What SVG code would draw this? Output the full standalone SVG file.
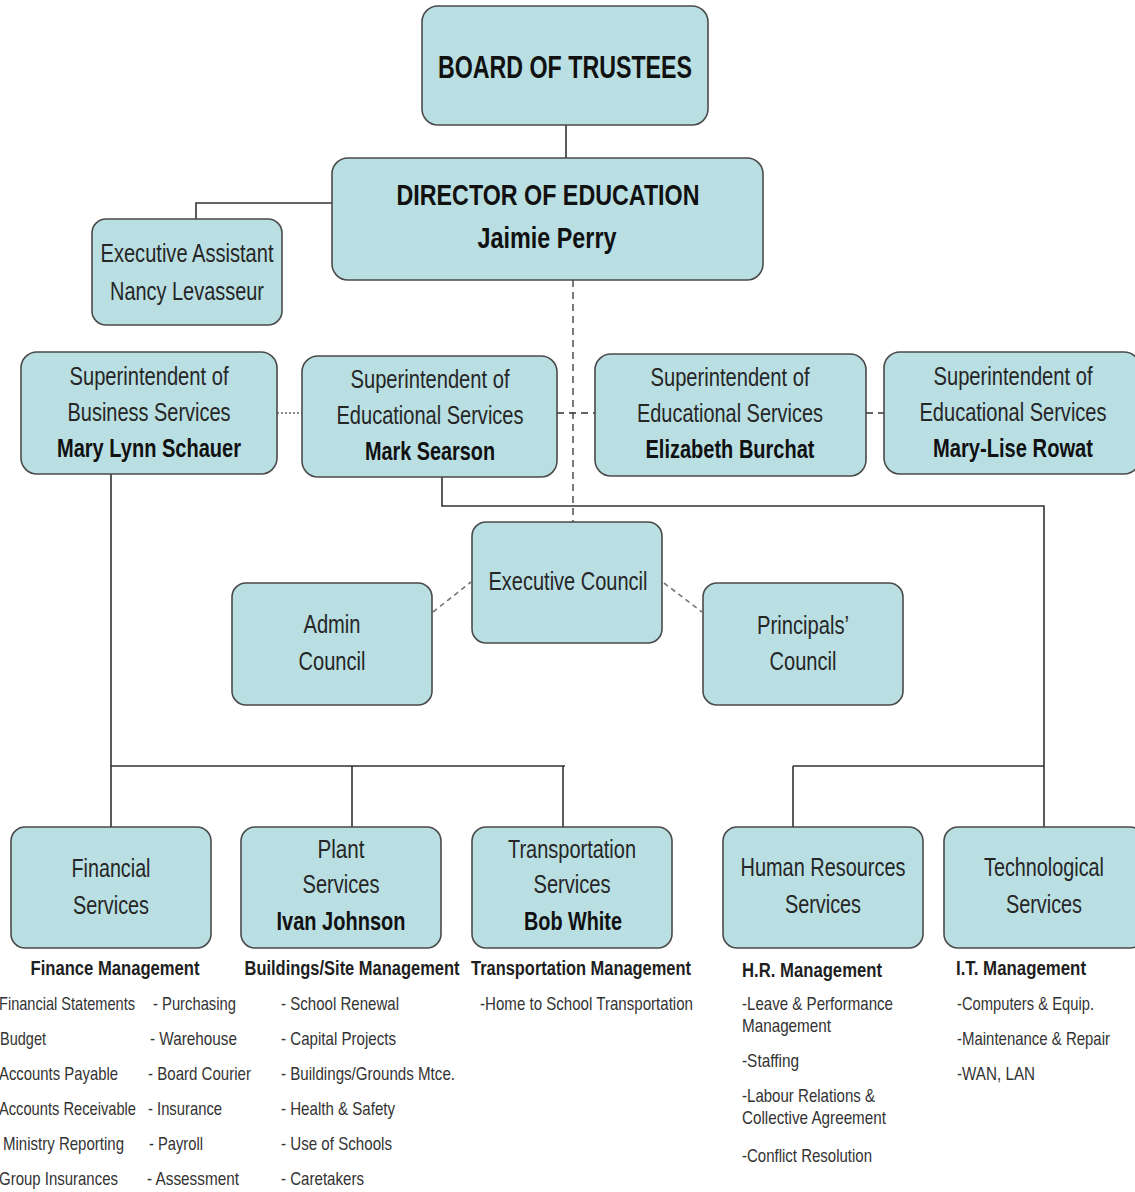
<svg xmlns="http://www.w3.org/2000/svg" width="1135" height="1192" viewBox="0 0 1135 1192">
<style>
.box{fill:#b9dfe3;stroke:#4a4a4a;stroke-width:1.6}
text{font-family:"Liberation Sans",Arial,sans-serif;fill:#262626}
.c{text-anchor:middle}
.t{font-size:26px}
.b{font-weight:bold;fill:#111}
.h{font-size:20px;font-weight:bold;fill:#1e1e1e}
.i{font-size:19px;fill:#333}
.ln{fill:none;stroke:#333;stroke-width:1.6}
.ds{fill:none;stroke:#333;stroke-width:1.3;stroke-dasharray:7 5}
.gd{fill:none;stroke:#777;stroke-width:1.6;stroke-dasharray:5 4}
.dt{fill:none;stroke:#888;stroke-width:2;stroke-dasharray:2 2}
</style>
<rect width="1135" height="1192" fill="#fff"/>
<g id="connectors">
<path class="ln" d="M566,125V158"/>
<path class="ln" d="M196,219V203H332"/>
<path class="ln" d="M111,474V827M111,766H565M352,766V827M563,766V827"/>
<path class="ln" d="M442,477V506H1044V827M793,766H1044M793,766V827"/>
<path class="ds" d="M573,280V522"/>
<path class="ds" d="M557,413H595"/>
<path class="ds" d="M866,413H884"/>
<path class="dt" d="M277,413H302"/>
<path class="gd" d="M433,612L471,582M664,583L702,612"/>
</g>
<g id="board">
<rect class="box" x="422" y="6" width="286" height="119" rx="16"/>
<text class="c b" x="565" y="78" font-size="31" textLength="254" lengthAdjust="spacingAndGlyphs">BOARD OF TRUSTEES</text>
</g>
<g id="director">
<rect class="box" x="332" y="158" width="431" height="122" rx="16"/>
<text class="c b" x="548" y="205" font-size="30" textLength="303" lengthAdjust="spacingAndGlyphs">DIRECTOR OF EDUCATION</text>
<text class="c b" x="547" y="248" font-size="29" textLength="139" lengthAdjust="spacingAndGlyphs">Jaimie Perry</text>
</g>
<g id="exec-assistant">
<rect class="box" x="92" y="219" width="190" height="106" rx="14"/>
<text class="c t" x="187" y="262" textLength="173" lengthAdjust="spacingAndGlyphs">Executive Assistant</text>
<text class="c t" x="187" y="300" textLength="154" lengthAdjust="spacingAndGlyphs">Nancy Levasseur</text>
</g>
<g id="sup-business">
<rect class="box" x="21" y="352" width="256" height="122" rx="16"/>
<text class="c t" x="149" y="385" textLength="159" lengthAdjust="spacingAndGlyphs">Superintendent of</text>
<text class="c t" x="149" y="421" textLength="163" lengthAdjust="spacingAndGlyphs">Business Services</text>
<text class="c t b" x="149" y="457" textLength="184" lengthAdjust="spacingAndGlyphs">Mary Lynn Schauer</text>
</g>
<g id="sup-searson">
<rect class="box" x="302" y="356" width="255" height="121" rx="16"/>
<text class="c t" x="430" y="388" textLength="159" lengthAdjust="spacingAndGlyphs">Superintendent of</text>
<text class="c t" x="430" y="424" textLength="187" lengthAdjust="spacingAndGlyphs">Educational Services</text>
<text class="c t b" x="430" y="460" textLength="130" lengthAdjust="spacingAndGlyphs">Mark Searson</text>
</g>
<g id="sup-burchat">
<rect class="box" x="595" y="354" width="271" height="122" rx="16"/>
<text class="c t" x="730" y="386" textLength="159" lengthAdjust="spacingAndGlyphs">Superintendent of</text>
<text class="c t" x="730" y="422" textLength="186" lengthAdjust="spacingAndGlyphs">Educational Services</text>
<text class="c t b" x="730" y="458" textLength="169" lengthAdjust="spacingAndGlyphs">Elizabeth Burchat</text>
</g>
<g id="sup-rowat">
<rect class="box" x="884" y="352" width="256" height="122" rx="16"/>
<text class="c t" x="1013" y="385" textLength="159" lengthAdjust="spacingAndGlyphs">Superintendent of</text>
<text class="c t" x="1013" y="421" textLength="187" lengthAdjust="spacingAndGlyphs">Educational Services</text>
<text class="c t b" x="1013" y="457" textLength="160" lengthAdjust="spacingAndGlyphs">Mary-Lise Rowat</text>
</g>
<g id="exec-council">
<rect class="box" x="472" y="522" width="190" height="121" rx="14"/>
<text class="c t" x="568" y="590" textLength="159" lengthAdjust="spacingAndGlyphs">Executive Council</text>
</g>
<g id="admin-council">
<rect class="box" x="232" y="583" width="200" height="122" rx="14"/>
<text class="c t" x="332" y="633" textLength="57" lengthAdjust="spacingAndGlyphs">Admin</text>
<text class="c t" x="332" y="670" textLength="67" lengthAdjust="spacingAndGlyphs">Council</text>
</g>
<g id="principals-council">
<rect class="box" x="703" y="583" width="200" height="122" rx="14"/>
<text class="c t" x="803" y="634" textLength="92" lengthAdjust="spacingAndGlyphs">Principals’</text>
<text class="c t" x="803" y="670" textLength="67" lengthAdjust="spacingAndGlyphs">Council</text>
</g>
<g id="financial">
<rect class="box" x="11" y="827" width="200" height="121" rx="14"/>
<text class="c t" x="111" y="877" textLength="79" lengthAdjust="spacingAndGlyphs">Financial</text>
<text class="c t" x="111" y="914" textLength="76" lengthAdjust="spacingAndGlyphs">Services</text>
<text class="c h" x="115" y="975" textLength="169" lengthAdjust="spacingAndGlyphs">Finance Management</text>
<text class="i" x="-1" y="1010" textLength="136" lengthAdjust="spacingAndGlyphs">Financial Statements</text>
<text class="i" x="0" y="1045" textLength="46" lengthAdjust="spacingAndGlyphs">Budget</text>
<text class="i" x="-1" y="1080" textLength="119" lengthAdjust="spacingAndGlyphs">Accounts Payable</text>
<text class="i" x="-1" y="1115" textLength="137" lengthAdjust="spacingAndGlyphs">Accounts Receivable</text>
<text class="i" x="3" y="1150" textLength="121" lengthAdjust="spacingAndGlyphs">Ministry Reporting</text>
<text class="i" x="-1" y="1185" textLength="119" lengthAdjust="spacingAndGlyphs">Group Insurances</text>
<text class="i" x="153" y="1010" textLength="83" lengthAdjust="spacingAndGlyphs">- Purchasing</text>
<text class="i" x="150" y="1045" textLength="87" lengthAdjust="spacingAndGlyphs">- Warehouse</text>
<text class="i" x="148" y="1080" textLength="103" lengthAdjust="spacingAndGlyphs">- Board Courier</text>
<text class="i" x="148" y="1115" textLength="74" lengthAdjust="spacingAndGlyphs">- Insurance</text>
<text class="i" x="149" y="1150" textLength="54" lengthAdjust="spacingAndGlyphs">- Payroll</text>
<text class="i" x="147" y="1185" textLength="92" lengthAdjust="spacingAndGlyphs">- Assessment</text>
</g>
<g id="plant">
<rect class="box" x="241" y="827" width="200" height="121" rx="14"/>
<text class="c t" x="341" y="858" textLength="47" lengthAdjust="spacingAndGlyphs">Plant</text>
<text class="c t" x="341" y="893" textLength="77" lengthAdjust="spacingAndGlyphs">Services</text>
<text class="c t b" x="341" y="930" textLength="129" lengthAdjust="spacingAndGlyphs">Ivan Johnson</text>
<text class="c h" x="352" y="975" textLength="215" lengthAdjust="spacingAndGlyphs">Buildings/Site Management</text>
<text class="i" x="281" y="1010" textLength="118" lengthAdjust="spacingAndGlyphs">- School Renewal</text>
<text class="i" x="281" y="1045" textLength="115" lengthAdjust="spacingAndGlyphs">- Capital Projects</text>
<text class="i" x="281" y="1080" textLength="174" lengthAdjust="spacingAndGlyphs">- Buildings/Grounds Mtce.</text>
<text class="i" x="281" y="1115" textLength="114" lengthAdjust="spacingAndGlyphs">- Health &amp; Safety</text>
<text class="i" x="281" y="1150" textLength="111" lengthAdjust="spacingAndGlyphs">- Use of Schools</text>
<text class="i" x="281" y="1185" textLength="83" lengthAdjust="spacingAndGlyphs">- Caretakers</text>
</g>
<g id="transportation">
<rect class="box" x="472" y="827" width="200" height="121" rx="14"/>
<text class="c t" x="572" y="858" textLength="128" lengthAdjust="spacingAndGlyphs">Transportation</text>
<text class="c t" x="572" y="893" textLength="77" lengthAdjust="spacingAndGlyphs">Services</text>
<text class="c t b" x="573" y="930" textLength="98" lengthAdjust="spacingAndGlyphs">Bob White</text>
<text class="c h" x="581" y="975" textLength="220" lengthAdjust="spacingAndGlyphs">Transportation Management</text>
<text class="i" x="480" y="1010" textLength="213" lengthAdjust="spacingAndGlyphs">-Home to School Transportation</text>
</g>
<g id="human-resources">
<rect class="box" x="723" y="827" width="200" height="121" rx="14"/>
<text class="c t" x="823" y="876" textLength="165" lengthAdjust="spacingAndGlyphs">Human Resources</text>
<text class="c t" x="823" y="913" textLength="76" lengthAdjust="spacingAndGlyphs">Services</text>
<text class="h" x="742" y="977" textLength="140" lengthAdjust="spacingAndGlyphs">H.R. Management</text>
<text class="i" x="742" y="1010" textLength="151" lengthAdjust="spacingAndGlyphs">-Leave &amp; Performance</text>
<text class="i" x="742" y="1032" textLength="89" lengthAdjust="spacingAndGlyphs">Management</text>
<text class="i" x="742" y="1067" textLength="57" lengthAdjust="spacingAndGlyphs">-Staffing</text>
<text class="i" x="742" y="1102" textLength="133" lengthAdjust="spacingAndGlyphs">-Labour Relations &amp;</text>
<text class="i" x="742" y="1124" textLength="144" lengthAdjust="spacingAndGlyphs">Collective Agreement</text>
<text class="i" x="742" y="1162" textLength="130" lengthAdjust="spacingAndGlyphs">-Conflict Resolution</text>
</g>
<g id="technological">
<rect class="box" x="944" y="827" width="200" height="121" rx="14"/>
<text class="c t" x="1044" y="876" textLength="120" lengthAdjust="spacingAndGlyphs">Technological</text>
<text class="c t" x="1044" y="913" textLength="76" lengthAdjust="spacingAndGlyphs">Services</text>
<text class="h" x="956" y="975" textLength="130" lengthAdjust="spacingAndGlyphs">I.T. Management</text>
<text class="i" x="957" y="1010" textLength="137" lengthAdjust="spacingAndGlyphs">-Computers &amp; Equip.</text>
<text class="i" x="957" y="1045" textLength="153" lengthAdjust="spacingAndGlyphs">-Maintenance &amp; Repair</text>
<text class="i" x="957" y="1080" textLength="78" lengthAdjust="spacingAndGlyphs">-WAN, LAN</text>
</g>
</svg>
